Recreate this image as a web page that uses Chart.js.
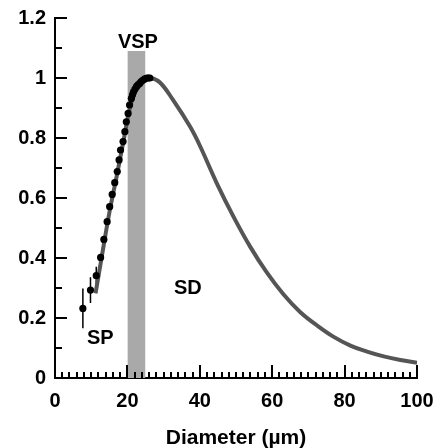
<!DOCTYPE html>
<html>
<head>
<meta charset="utf-8">
<script src="https://cdn.jsdelivr.net/npm/chart.js@4/dist/chart.umd.min.js"></script>
<style>
  html, body { margin: 0; padding: 0; background: #fff; }
  #wrap { width: 439px; height: 448px; }
</style>
</head>
<body>
<div id="wrap"><canvas id="chart" width="439" height="448"></canvas></div>
<script>
'use strict';

// Size distribution curve (SD)
const sdDiameter = [11.2, 13, 15, 17, 19, 21, 23, 24.8, 26.5, 29, 32.6, 37.3, 40, 44.7, 49.3, 53.9, 58.5, 63.1, 67.7, 72.4, 77, 81.6, 86.2, 90.8, 95.4, 100];
const sdValue    = [0.282, 0.41, 0.55, 0.67, 0.795, 0.915, 0.975, 0.995, 1.0, 0.985, 0.927, 0.838, 0.775, 0.649, 0.538, 0.438, 0.352, 0.279, 0.22, 0.175, 0.137, 0.108, 0.088, 0.072, 0.06, 0.051];

// Measured points with error bars
const measDiameter = [7.7, 9.8, 11.4, 12.6, 13.5, 14.4, 15.1, 15.8, 16.5, 17.2, 17.7, 18.1, 18.8, 19.3, 19.7, 20.2, 20.6, 21.1, 21.4, 21.7, 22.1, 22.5, 22.9, 23.4, 23.8, 24.3, 24.8, 25.4, 25.8, 26.2];
const measValue    = [0.232, 0.293, 0.341, 0.402, 0.462, 0.521, 0.571, 0.612, 0.651, 0.688, 0.727, 0.76, 0.788, 0.821, 0.854, 0.882, 0.91, 0.932, 0.944, 0.954, 0.963, 0.971, 0.977, 0.982, 0.988, 0.993, 0.997, 1.0, 1.0, 1.0];
const measError    = [0.066, 0.043, 0.03, 0.012, 0.01, 0, 0, 0, 0, 0, 0, 0, 0, 0, 0, 0, 0, 0, 0, 0, 0, 0, 0, 0, 0, 0, 0, 0, 0, 0];

// VSP band
const vspRange = [20, 25];
const vspHeight = 1.09;

// Axis ticks
const xTickValues = [0, 20, 40, 60, 80, 100];
const yTickValues = [0, 0.2, 0.4, 0.6, 0.8, 1, 1.2];
const yTickLabels = ['0', '0.2', '0.4', '0.6', '0.8', '1', '1.2'];

// Region labels (data coordinates)
const regionLabels = [
  { text: 'VSP', x: 22.9, y: 1.12 },
  { text: 'SD',  x: 36.7, y: 0.297 },
  { text: 'SP',  x: 12.5, y: 0.133 }
];

const FONT = 'Liberation Sans, Arial, sans-serif';

const innerTicks = {
  id: 'innerTicks',
  afterDatasetsDraw(chart) {
    const { ctx, scales: { x, y } } = chart;
    const x0 = x.getPixelForValue(0), y0 = y.getPixelForValue(0);
    ctx.save();
    ctx.strokeStyle = '#000';
    ctx.lineWidth = 2;
    ctx.beginPath();
    // x: major every 20, minor every 2
    for (let v = 2; v <= 100.001; v += 2) {
      const px = Math.round(x.getPixelForValue(v));
      const len = (Math.round(v) % 20 === 0) ? 13 : 6;
      ctx.moveTo(px, y0);
      ctx.lineTo(px, y0 - len);
    }
    // y: major every 0.2, minor every 0.1
    for (let i = 1; i <= 12; i++) {
      const py = Math.round(y.getPixelForValue(i / 10));
      const len = (i % 2 === 0) ? 12 : 7;
      ctx.moveTo(x0, py);
      ctx.lineTo(x0 + len, py);
    }
    ctx.stroke();
    ctx.restore();
  }
};

const errorBars = {
  id: 'errorBars',
  beforeDatasetsDraw(chart) {
    const { ctx, scales: { x, y } } = chart;
    ctx.save();
    ctx.strokeStyle = '#000';
    ctx.lineWidth = 1.5;
    ctx.beginPath();
    measDiameter.forEach((d, i) => {
      if (!measError[i]) return;
      const px = x.getPixelForValue(d);
      ctx.moveTo(px, y.getPixelForValue(measValue[i] - measError[i]));
      ctx.lineTo(px, y.getPixelForValue(measValue[i] + measError[i]));
    });
    ctx.stroke();
    ctx.restore();
  }
};

const textLabels = {
  id: 'textLabels',
  afterDatasetsDraw(chart) {
    const { ctx, scales: { x, y } } = chart;
    ctx.save();
    ctx.fillStyle = '#000';
    ctx.font = 'bold 20px ' + FONT;
    ctx.textAlign = 'center';
    ctx.textBaseline = 'middle';
    regionLabels.forEach(l => ctx.fillText(l.text, x.getPixelForValue(l.x), y.getPixelForValue(l.y)));
    ctx.restore();
  }
};

new Chart(document.getElementById('chart'), {
  type: 'line',
  data: {
    datasets: [
      {
        label: 'measured',
        data: measDiameter.map((d, i) => ({ x: d, y: measValue[i] })),
        showLine: false,
        pointRadius: 3.6,
        pointBackgroundColor: '#000',
        pointBorderWidth: 0,
        order: 1
      },
      {
        label: 'SD',
        data: sdDiameter.map((d, i) => ({ x: d, y: sdValue[i] })),
        borderColor: '#555',
        borderWidth: 4,
        pointRadius: 0,
        tension: 0.4,
        order: 2
      },
      {
        label: 'VSP',
        data: vspRange.map(d => ({ x: d, y: vspHeight })),
        borderWidth: 0,
        pointRadius: 0,
        backgroundColor: '#a9a9a9',
        fill: 'origin',
        order: 3
      }
    ]
  },
  options: {
    responsive: false,
    animation: false,
    layout: { padding: { top: 18, right: 22, left: 0, bottom: 0 } },
    plugins: { legend: { display: false }, tooltip: { enabled: false } },
    scales: {
      x: {
        type: 'linear', min: 0, max: 100,
        afterFit: s => { s.height = 70; s.paddingRight = 0; s.paddingLeft = 0; },
        afterBuildTicks: s => { s.ticks = xTickValues.map(v => ({ value: v })); },
        grid: { display: false, drawTicks: false },
        border: { display: true, color: '#000', width: 2 },
        ticks: { color: '#000', padding: 11, maxRotation: 0, font: { family: FONT, size: 20, weight: 'bold' } },
        title: { display: true, text: 'Diameter (µm)', color: '#000', padding: { top: 0, bottom: -3 }, font: { family: FONT, size: 21, weight: 'bold' } }
      },
      y: {
        type: 'linear', min: 0, max: 1.2,
        afterFit: s => { s.width = 55; s.paddingTop = 0; s.paddingBottom = 0; },
        afterBuildTicks: s => { s.ticks = yTickValues.map(v => ({ value: v })); },
        grid: { display: false, drawTicks: false },
        border: { display: true, color: '#000', width: 2 },
        ticks: { color: '#000', padding: 9, callback: (v, i) => yTickLabels[i], font: { family: FONT, size: 20, weight: 'bold' } }
      }
    }
  },
  plugins: [errorBars, innerTicks, textLabels]
});
</script>
</body>
</html>
